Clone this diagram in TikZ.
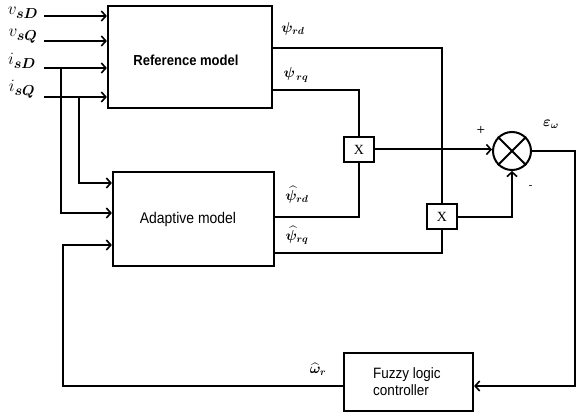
\documentclass[tikz,border=0pt]{standalone}
\usepackage{fontspec}
\usepackage{amsmath,bm}
\setmainfont{Liberation Serif}
\newfontfamily\boxfont[FakeStretch=0.9]{Liberation Sans}
\usetikzlibrary{arrows.meta}
\tikzset{
  wire/.style={line width=2pt},
  arr/.style={wire,-{Straight Barb[length=4.5pt,width=10pt,line width=1.6pt]}},
  blk/.style={draw,line width=2.2pt,rectangle,inner sep=0pt},
  mult/.style={draw,line width=2pt,rectangle,minimum width=30pt,minimum height=25pt,inner sep=0pt,font=\fontsize{14}{16}\selectfont},
  lbl/.style={inner sep=0pt},
}
\begin{document}
\begin{tikzpicture}[x=1pt,y=-1pt]
\useasboundingbox (0,0) rectangle (581,417);
% blocks
\node[blk,minimum width=164pt,minimum height=102pt] (ref) at (190,57) {};
\node[lbl,font=\fontsize{14.5}{16}\selectfont\boxfont\bfseries] (reft) at (186,60) {Reference model};
\node[blk,minimum width=161pt,minimum height=94pt] (adp) at (193.5,219) {};
\node[lbl,font=\fontsize{15.5}{16}\selectfont\boxfont] (adpt) at (188,219) {Adaptive model};
\node[blk,minimum width=129pt,minimum height=58pt] (fuz) at (408.5,382) {};
\node[lbl,font=\fontsize{15}{17}\selectfont\boxfont,align=left] (fuzt) at (407,382) {Fuzzy logic\\controller};
\node[mult] (m1) at (359,149.5) {X};
\node[mult] (m2) at (442,216.5) {X};
\node[draw,circle,line width=2pt,minimum size=38pt,inner sep=0pt] (sum) at (512,151) {};
\draw[wire] (sum.45) -- (sum.225) (sum.135) -- (sum.315);
% inputs
\coordinate (i1) at (44,16);
\coordinate (i2) at (44,41);
\coordinate (i3) at (44,68);
\coordinate (i4) at (44,97);
\draw[arr] (i1) -- (i1 -| ref.west);
\draw[arr] (i2) -- (i2 -| ref.west);
\draw[arr] (i3) -- (i3 -| ref.west);
\draw[arr] (i4) -- (i4 -| ref.west);
\coordinate (b1) at (61,68);
\coordinate (b2) at (79,97);
\coordinate (a1) at (61,213);
\coordinate (a2) at (79,183);
\draw[arr] (b1) -- (a1) -- (a1 -| adp.west);
\draw[arr] (b2) -- (a2) -- (a2 -| adp.west);
% input labels
\node[lbl,font=\fontsize{19}{21}\selectfont] (lv1) at (23,13) {$v_{\bm{sD}}$};
\node[lbl,font=\fontsize{19}{21}\selectfont] (lv2) at (23,36) {$v_{\bm{sQ}}$};
\node[lbl,font=\fontsize{19}{21}\selectfont] (li1) at (22,61) {$i_{\bm{sD}}$};
\node[lbl,font=\fontsize{19}{21}\selectfont] (li2) at (22,89) {$i_{\bm{sQ}}$};
% outputs of reference model
\coordinate (rd) at (272,48);
\coordinate (rq) at (272,90);
\draw[wire] (rd) -- (rd -| m2.north) -- (m2.north);
\draw[wire] (rq) -- (rq -| m1.north) -- (m1.north);
% outputs of adaptive model
\coordinate (ad) at (274,217);
\coordinate (aq) at (274,253);
\draw[wire] (ad) -- (ad -| m1.south) -- (m1.south);
\draw[wire] (aq) -- (aq -| m2.south) -- (m2.south);
\node[lbl,font=\fontsize{14}{16}\selectfont] (lrd) at (293,29) {$\bm{\psi_{rd}}$};
\node[lbl,font=\fontsize{14}{16}\selectfont] (lrq) at (296,75) {$\bm{\psi_{\,rq}}$};
\node[lbl,font=\fontsize{14}{16}\selectfont] (lad) at (297,195) {$\bm{\widehat{\psi}_{rd}}$};
\node[lbl,font=\fontsize{14}{16}\selectfont] (laq) at (297,235) {$\bm{\widehat{\psi}_{rq}}$};
% to summer
\draw[arr] (m1.east) -- (m1.east -| sum.west);
\draw[arr] (m2.east) -- (m2.east -| sum.south) -- (sum.south);
\node[lbl,font=\fontsize{10}{10}\selectfont\bfseries\sffamily] (lp) at (481,130) {+};
\node[lbl,font=\fontsize{11}{10}\selectfont\bfseries\sffamily] (lm) at (531,187) {-};
\node[lbl,font=\fontsize{14}{14}\selectfont] (le) at (551,124) {$\bm{\varepsilon_{\omega}}$};
% feedback
\coordinate (c1) at (575,151);
\coordinate (c2) at (575,386);
\draw[arr] (sum.east) -- (c1) -- (c2) -- (c2 -| fuz.east);
\coordinate (f1) at (63,386);
\coordinate (f2) at (63,245);
\draw[arr] (f1 -| fuz.west) -- (f1) -- (f2) -- (f2 -| adp.west);
\node[lbl,font=\fontsize{14}{16}\selectfont] (lw) at (318,369) {$\bm{\widehat{\omega}_{r}}$};
\end{tikzpicture}
\end{document}
